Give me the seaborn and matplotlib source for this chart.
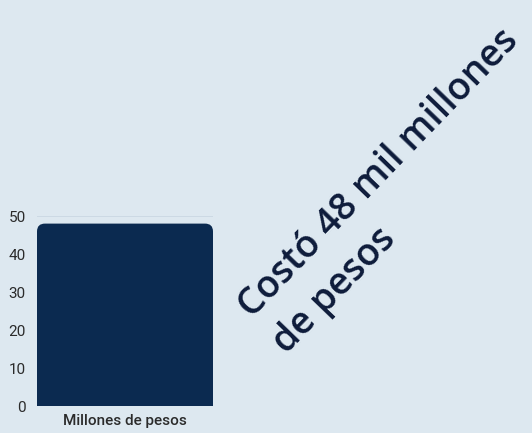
import matplotlib
matplotlib.use("Agg")
import matplotlib.pyplot as plt
from matplotlib.patches import FancyBboxPatch, Rectangle
import seaborn as sns
import pandas as pd

categories = ["Millones de pesos"]
values = [48]
yticks = [0, 10, 20, 30, 40, 50]
annotation_line1 = "Costó 48 mil millones"
annotation_line2 = "de pesos"

bg = "#dde8f0"
bar_color = "#0b2a50"
text_color = "#0d1b3a"

sns.set_theme(style="white")
plt.rcParams['font.family'] = ['Roboto', 'DejaVu Sans']

fig = plt.figure(figsize=(5.32, 4.33), dpi=100, facecolor=bg)
ax = fig.add_axes([37/532, 1 - 406/433, 176/532, 190/433])
ax.set_facecolor(bg)

df = pd.DataFrame({"cat": categories, "val": values})
sns.barplot(data=df, x="cat", y="val", color=bar_color, width=1.0,
            saturation=1, ax=ax, zorder=3, linewidth=0)
ax.set_ylim(0, 50)
ax.set_xlim(-0.5, 0.5)

# round the top corners of bars (geometry taken from the library's patches)
for p in list(ax.patches):
    x, w, h = p.get_x(), p.get_width(), p.get_height()
    p.set_visible(False)
    rr = FancyBboxPatch((x, 0), w, h, boxstyle="round,pad=0,rounding_size=0.045",
                        mutation_aspect=46, facecolor=bar_color, edgecolor="none", zorder=3)
    ax.add_patch(rr)
    ax.add_patch(Rectangle((x, 0), w, h * 0.5, facecolor=bar_color, edgecolor="none", zorder=3))

ax.set_yticks(yticks)
ax.set_yticklabels([str(t) for t in yticks])
ax.yaxis.grid(True, color="#c9d7e2", linewidth=1.2, zorder=0)
ax.set_axisbelow(True)
for s in ax.spines.values():
    s.set_visible(False)
ax.tick_params(axis="both", length=0, labelsize=11, colors="#2b2b2b")
ax.tick_params(axis="y", pad=8)
ax.tick_params(axis="x", pad=6)
for lab in ax.get_xticklabels():
    lab.set_fontsize(11)
    lab.set_fontweight("medium")
ax.set_xlabel("")
ax.set_ylabel("")

fig.text(252/532, 1 - 319/433, annotation_line1, rotation=46,
         rotation_mode="anchor", ha="left", va="baseline", family=['Open Sans', 'DejaVu Sans'],
         fontsize=27, fontweight="semibold", color=text_color)
fig.text(287/532, 1 - 355/433, annotation_line2, rotation=46,
         rotation_mode="anchor", ha="left", va="baseline", family=['Open Sans', 'DejaVu Sans'],
         fontsize=27, fontweight="semibold", color=text_color)

fig.savefig("out.png", dpi=100, facecolor=bg)
